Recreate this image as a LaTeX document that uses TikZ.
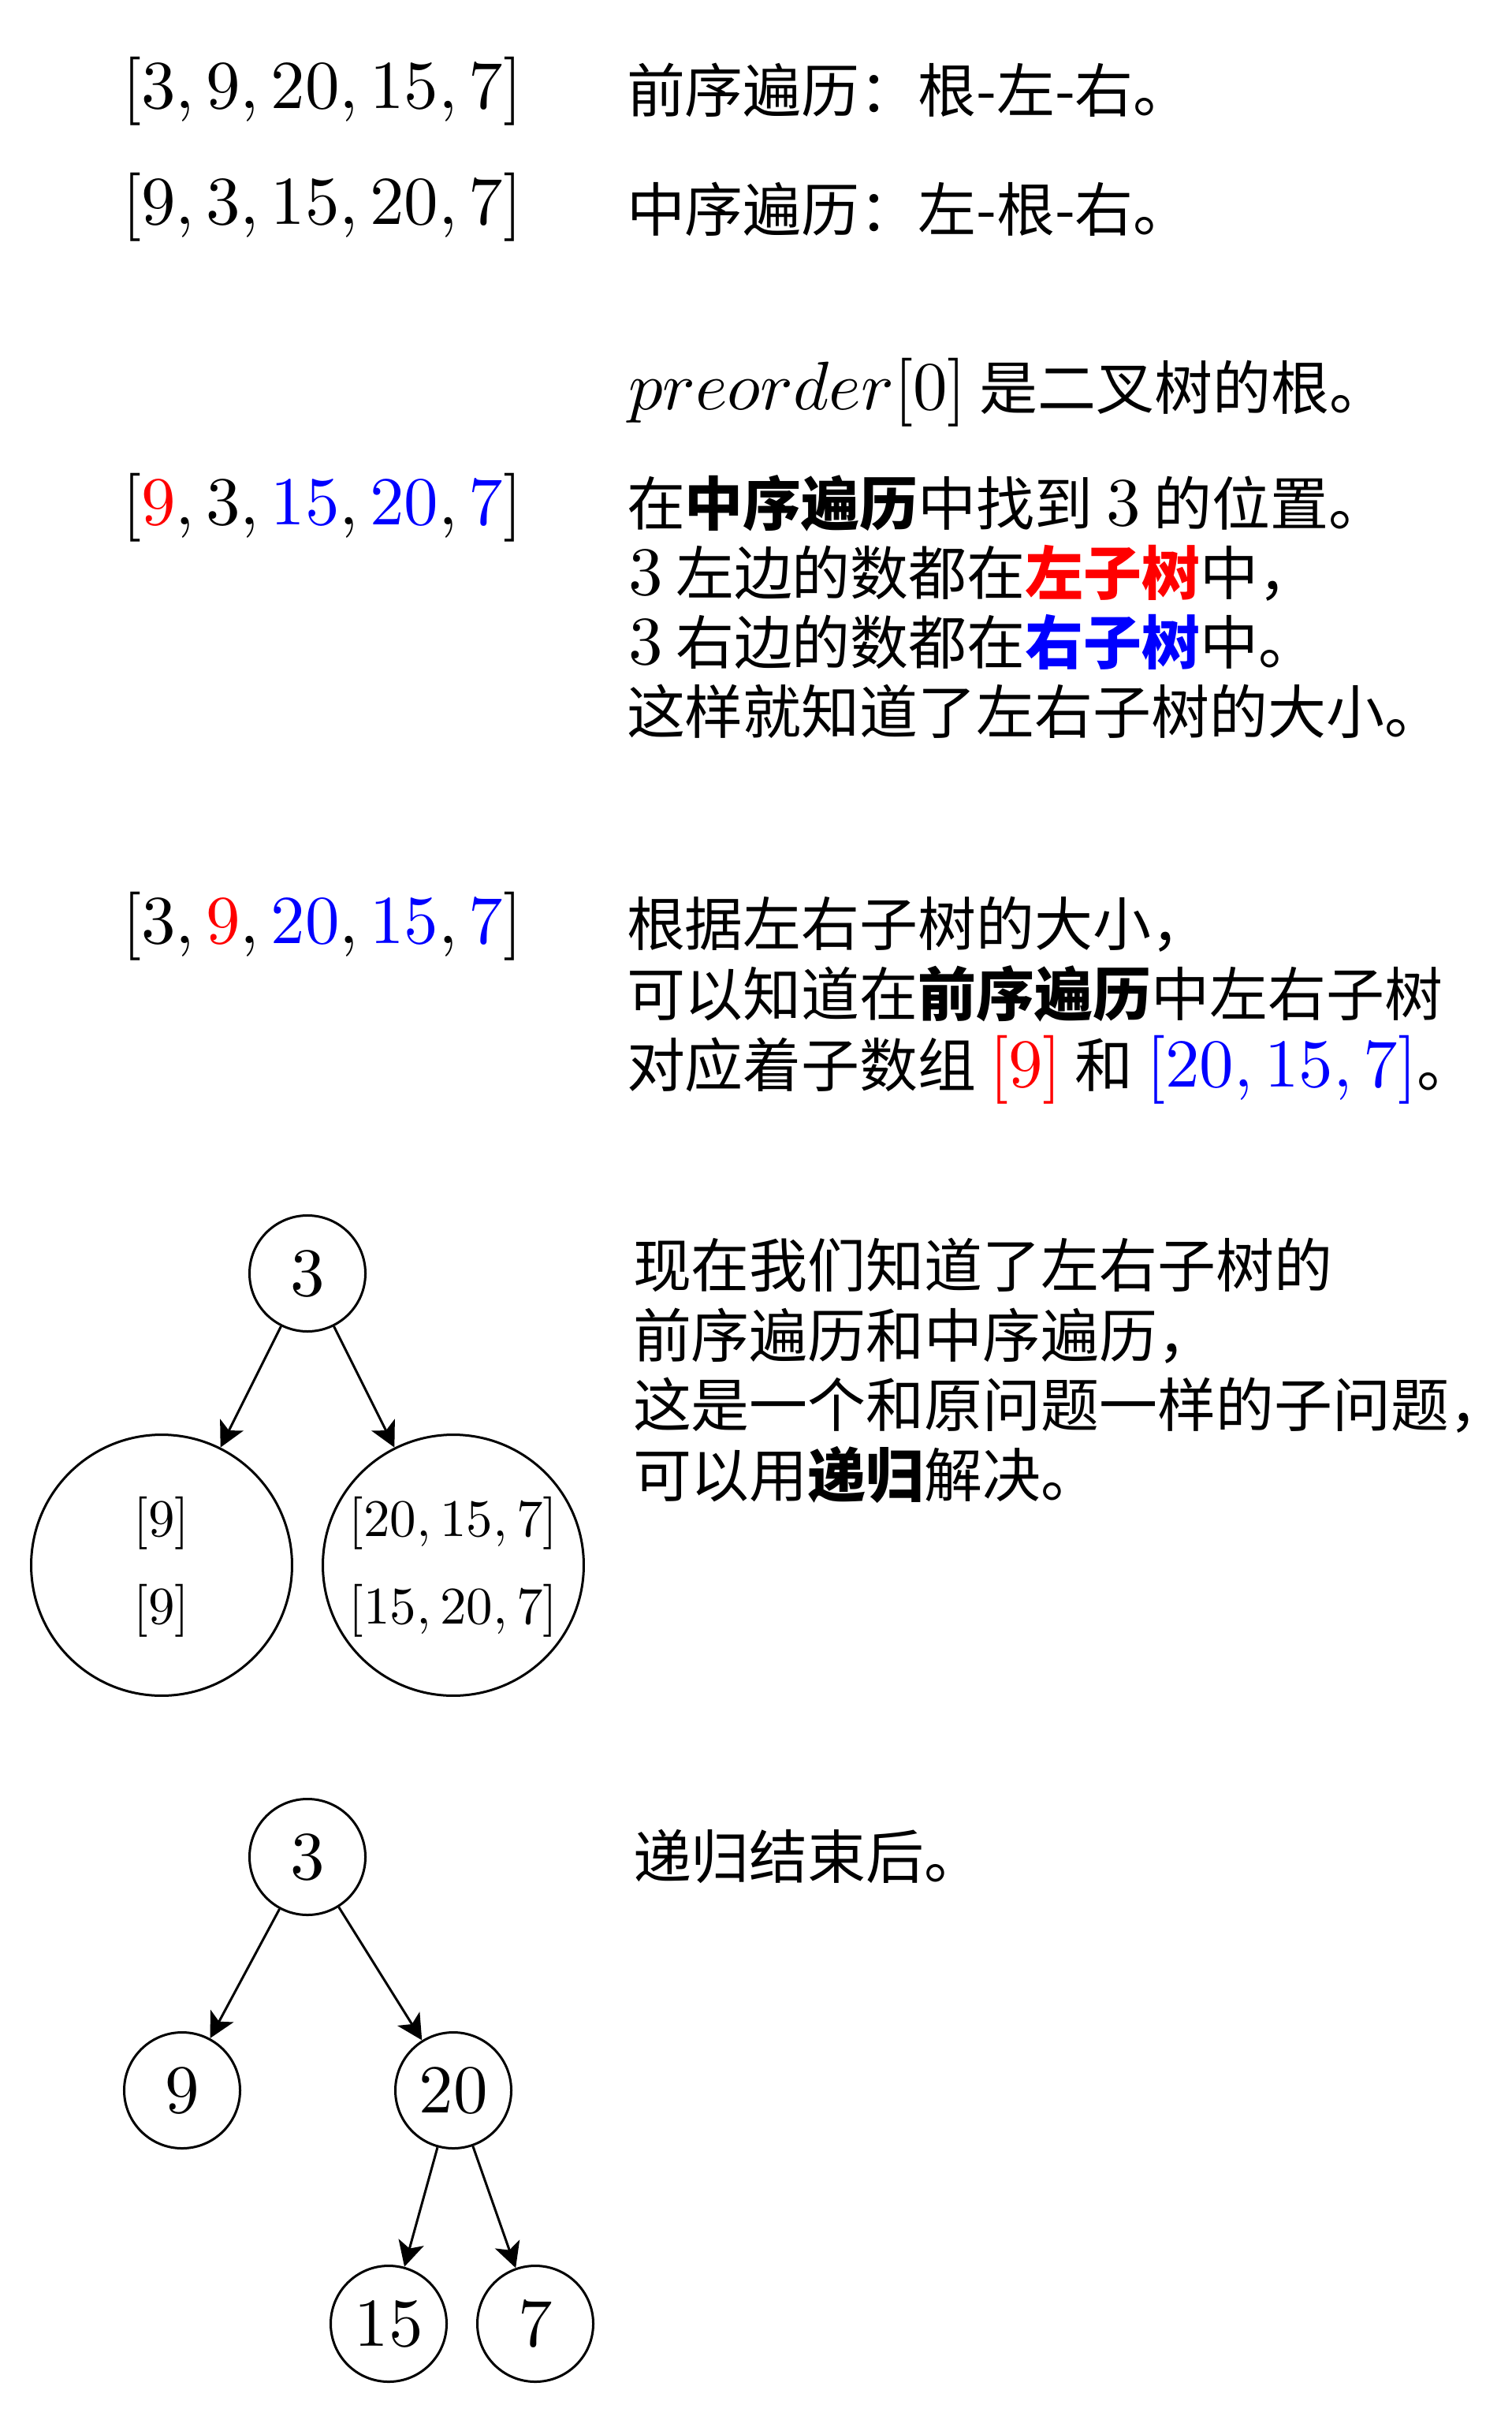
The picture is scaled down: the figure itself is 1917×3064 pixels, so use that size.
\documentclass[tikz,border=0pt]{standalone}
\usepackage{fontspec}
\usetikzlibrary{arrows.meta}
\newfontfamily\cjk[Scale=0.85]{Noto Sans CJK SC}
\tikzset{
  txt/.style={anchor=base west, inner sep=0pt, outer sep=0pt, font=\cjk},
  mth/.style={anchor=base west, inner sep=0pt, outer sep=0pt},
  inner/.style={anchor=base, inner sep=0pt, outer sep=0pt},
  nd/.style={circle, draw, line width=0.345pt, minimum size=16.9pt, inner sep=0pt},
  bigc/.style={circle, draw, line width=0.345pt, minimum size=38.04pt, inner sep=0pt},
  arr/.style={line width=0.345pt, -{Stealth[length=3.68pt, width=3.8pt, inset=0.92pt]}}
}
\begin{document}
\begin{tikzpicture}[x=0.11494pt, y=-0.11494pt]
\useasboundingbox (0,0) rectangle (1917,3064);
% block 1-2
\node[mth] (m1) at (155,138) {$[3,9,20,15,7]$};
\node[txt] (t1) at (795,143) {前序遍历：根-左-右。};
\node[mth] (m2) at (155,285) {$[9,3,15,20,7]$};
\node[txt] (t2) at (795,294) {中序遍历：左-根-右。};
% block 3
\node[txt] (t3) at (797,520) {$preorder[0]$ 是二叉树的根。};
% block 4
\node[mth] (m4) at (155,666) {$[{\color{red}9},3,{\color{blue}15},{\color{blue}20},{\color{blue}7}]$};
\node[txt] (t4a) at (795,667) {在{\bfseries 中序遍历}中找到 $3$ 的位置。};
\node[txt] (t4b) at (797,755) {$3$ 左边的数都在{\bfseries\color{red}左子树}中，};
\node[txt] (t4c) at (797,843) {$3$ 右边的数都在{\bfseries\color{blue}右子树}中。};
\node[txt] (t4d) at (795,931) {这样就知道了左右子树的大小。};
% block 5
\node[mth] (m5) at (155,1197) {$[3,{\color{red}9},{\color{blue}20},{\color{blue}15},{\color{blue}7}]$};
\node[txt] (t5a) at (795,1200) {根据左右子树的大小，};
\node[txt] (t5b) at (795,1289) {可以知道在{\bfseries 前序遍历}中左右子树};
\node[txt] (t5c) at (795,1378) {对应着子数组 {\color{red}$[9]$} 和 {\color{blue}$[20,15,7]$}。};
% block 6
\node[txt] (t6a) at (803,1632) {现在我们知道了左右子树的};
\node[txt] (t6b) at (803,1721) {前序遍历和中序遍历，};
\node[txt] (t6c) at (803,1809) {这是一个和原问题一样的子问题，};
\node[txt] (t6d) at (803,1898) {可以用{\bfseries 递归}解决。};
% tree 1
\node[nd] (a3) at (390,1615) {$3$};
\node[bigc] (aL) at (205,1985) {};
\node[bigc] (aR) at (575,1985) {};
\node[inner] (aL1) at (205,1948) {\scalebox{0.77}{$[9]$}};
\node[inner] (aL2) at (205,2059) {\scalebox{0.77}{$[9]$}};
\node[inner] (aR1) at (575,1948) {\scalebox{0.77}{$[20,15,7]$}};
\node[inner] (aR2) at (575,2059) {\scalebox{0.77}{$[15,20,7]$}};
\draw[arr] (a3) -- (aL);
\draw[arr] (a3) -- (aR);
% block 7
\node[txt] (t7) at (803,2382) {递归结束后。};
% tree 2
\node[nd] (b3) at (390,2355) {$3$};
\node[nd] (b9) at (231,2651) {$9$};
\node[nd] (b20) at (575,2651) {$20$};
\node[nd] (b15) at (493,2947) {$15$};
\node[nd] (b7) at (679,2947) {$7$};
\draw[arr] (b3) -- (b9);
\draw[arr] (b3) -- (b20);
\draw[arr] (b20) -- (b15);
\draw[arr] (b20) -- (b7);
\end{tikzpicture}
\end{document}
